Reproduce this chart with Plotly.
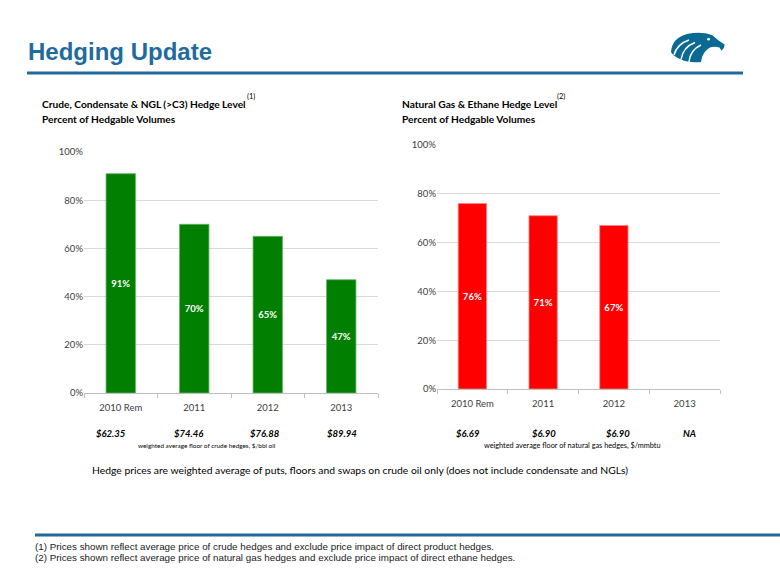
import plotly.graph_objects as go

W, H = 780, 585

# ---- data ----
categories = ["2010 Rem", "2011", "2012", "2013"]
crude_hedge = [0.91, 0.70, 0.65, 0.47]
gas_hedge = [0.76, 0.71, 0.67, None]
crude_floor = ["$62.35", "$74.46", "$76.88", "$89.94"]
gas_floor = ["$6.69", "$6.90", "$6.90", "NA"]
y_ticks = [0, 0.2, 0.4, 0.6, 0.8, 1.0]
y_ticklabels = ["0%", "20%", "40%", "60%", "80%", "100%"]

BLUE = "#1F6B9F"
FONT = "Lato"


def px(x):
    return x / W


def py(y):
    return 1 - y / H


fig = go.Figure()

fig.add_trace(go.Bar(
    x=categories, y=crude_hedge, xaxis="x", yaxis="y",
    marker=dict(color="#007F00", line=dict(color="#66B266", width=0.8)),
    text=[f"{v:.0%}" for v in crude_hedge], textposition="inside",
    insidetextanchor="middle", textangle=0,
    textfont=dict(color="white", size=9.5, family=FONT, weight="bold"),
    hoverinfo="skip", showlegend=False,
))
fig.add_trace(go.Bar(
    x=categories, y=gas_hedge, xaxis="x2", yaxis="y2",
    marker=dict(color="#FF0000", line=dict(color="#FF8080", width=0.8)),
    text=[f"{v:.0%}" if v is not None else "" for v in gas_hedge], textposition="inside",
    insidetextanchor="middle", textangle=0,
    textfont=dict(color="white", size=9.5, family=FONT, weight="bold"),
    hoverinfo="skip", showlegend=False,
))

axis_common_x = dict(
    type="category", range=[-0.5, 3.5], showgrid=False, showline=True, linecolor="#BFBFBF", linewidth=1,
    ticks="outside", tickson="boundaries", ticklen=4, tickcolor="#BFBFBF", tickangle=0,
    ticklabelstandoff=6,
    tickfont=dict(size=9.5, color="#404040", family=FONT), fixedrange=True,
)
axis_common_y = dict(
    range=[0, 1], tickvals=y_ticks, ticktext=y_ticklabels, showgrid=True,
    gridcolor="#D9D9D9", gridwidth=1, zeroline=False, showline=False,
    ticks="", tickfont=dict(size=9.5, color="#404040", family=FONT), fixedrange=True,
)

fig.update_layout(
    width=W, height=H, margin=dict(l=0, r=0, t=0, b=0, autoexpand=False),
    paper_bgcolor="white", plot_bgcolor="white",
    bargap=0.6,
    xaxis=dict(domain=[px(84), px(378)], anchor="y", **axis_common_x),
    yaxis=dict(domain=[py(393), py(152)], anchor="x", **axis_common_y),
    xaxis2=dict(domain=[px(437), px(720)], anchor="y2", **axis_common_x),
    yaxis2=dict(domain=[py(389), py(145)], anchor="x2", **axis_common_y),
    font=dict(family=FONT),
)

ann = []
ann.append(dict(text="<b>Hedging Update</b>", x=px(26), y=py(51), xref="paper", yref="paper",
                xanchor="left", yanchor="middle", showarrow=False,
                font=dict(family="Liberation Sans", size=24, color=BLUE)))


def ctitle(text, x, y, size=10.2):
    ann.append(dict(text=text, x=px(x), y=py(y), xref="paper", yref="paper",
                    xanchor="left", yanchor="middle", showarrow=False,
                    font=dict(family=FONT, size=size, color="#000000")))


ctitle("<b>Crude, Condensate & NGL (&gt;C3) Hedge Level</b>", 40, 104)
ctitle("(1)", 245, 97, 7.5)
ctitle("<b>Percent of Hedgable Volumes</b>", 40, 119)
ctitle("<b>Natural Gas & Ethane Hedge Level</b>", 400, 104)
ctitle("(2)", 555, 97, 7.5)
ctitle("<b>Percent of Hedgable Volumes</b>", 400, 119)

# price labels anchored to each category on the axes
crude_shift = [-10, -6, -3, 1]
gas_shift = [-4, 1, 4, 5]
for i, p in enumerate(crude_floor):
    ann.append(dict(text=f"<b><i>{p}</i></b>", x=i, xshift=crude_shift[i], y=py(433), xref="x", yref="paper",
                    xanchor="center", yanchor="middle", showarrow=False,
                    font=dict(family=FONT, size=9.5, color="#000000")))
for i, p in enumerate(gas_floor):
    ann.append(dict(text=f"<b><i>{p}</i></b>", x=i, xshift=gas_shift[i], y=py(433), xref="x2", yref="paper",
                    xanchor="center", yanchor="middle", showarrow=False,
                    font=dict(family=FONT, size=9.5, color="#000000")))
ann.append(dict(text="weighted average floor of crude hedges, $/bbl oil", x=px(207), y=py(445),
                xref="paper", yref="paper", xanchor="center", yanchor="middle", showarrow=False,
                font=dict(family=FONT, size=6.4, color="#000000")))
ann.append(dict(text="weighted average floor of natural gas hedges, $/mmbtu", x=px(572), y=py(445),
                xref="paper", yref="paper", xanchor="center", yanchor="middle", showarrow=False,
                font=dict(family=FONT, size=7.3, color="#000000")))
ann.append(dict(text="Hedge prices are weighted average of puts, floors and swaps on crude oil only (does not include condensate and NGLs)",
                x=px(90), y=py(470), xref="paper", yref="paper", xanchor="left", yanchor="middle",
                showarrow=False, font=dict(family=FONT, size=10.35, color="#000000")))

ann.append(dict(text="(1) Prices shown reflect average price of crude hedges and exclude price impact of direct product hedges.",
                x=px(33), y=py(546), xref="paper", yref="paper", xanchor="left", yanchor="middle",
                showarrow=False, font=dict(family="Liberation Sans", size=9.8, color="#1a1a1a")))
ann.append(dict(text="(2) Prices shown reflect average price of natural gas hedges and exclude price impact of direct ethane hedges.",
                x=px(33), y=py(557), xref="paper", yref="paper", xanchor="left", yanchor="middle",
                showarrow=False, font=dict(family="Liberation Sans", size=9.8, color="#1a1a1a")))

fig.update_layout(annotations=ann)

shapes = [
    dict(type="line", xref="paper", yref="paper", x0=px(27), x1=px(743), y0=py(73), y1=py(73),
         line=dict(color="#22689C", width=3)),
    dict(type="line", xref="paper", yref="paper", x0=px(35), x1=px(780), y0=py(535), y1=py(535),
         line=dict(color="#22689C", width=3)),
]


def path(cmds):
    out = []
    for c in cmds:
        if isinstance(c, str):
            out.append(c)
        else:
            out.append(f"{px(c[0]):.5f},{py(c[1]):.5f}")
    return " ".join(out)


LOGO = "#0B6A93"
head = path(["M", (671, 52), "Q", (672, 38), (687, 34), "Q", (701, 31), (712, 35),
             "L", (718, 40), "L", (724.5, 44.5), "Q", (724.5, 48.5), (721.5, 50.5),
             "L", (719.5, 47.5), "Q", (714, 46), (710, 47.5),
             "Q", (702, 52), (701, 62), "Q", (688, 63), (680, 59), "Q", (673, 56), (671, 52), "Z"])
shapes.append(dict(type="path", path=head, xref="paper", yref="paper",
                   fillcolor=LOGO, line=dict(width=0)))
for a, b, c in [((674, 55), (677, 44), (689, 40)),
                ((681, 59.5), (683, 47), (695, 42.5)),
                ((689, 62), (690, 50), (701, 45))]:
    shapes.append(dict(type="path", path=path(["M", a, "Q", b, c]), xref="paper", yref="paper",
                       line=dict(color="white", width=1.5)))
shapes.append(dict(type="circle", xref="paper", yref="paper", x0=px(707), x1=px(710),
                   y0=py(40.5), y1=py(38), fillcolor="white", line=dict(width=0)))
fig.update_layout(shapes=shapes)

fig.write_html("out.html", config={"displayModeBar": False},
               post_script="document.body.style.margin='0';document.body.style.overflow='hidden';")
